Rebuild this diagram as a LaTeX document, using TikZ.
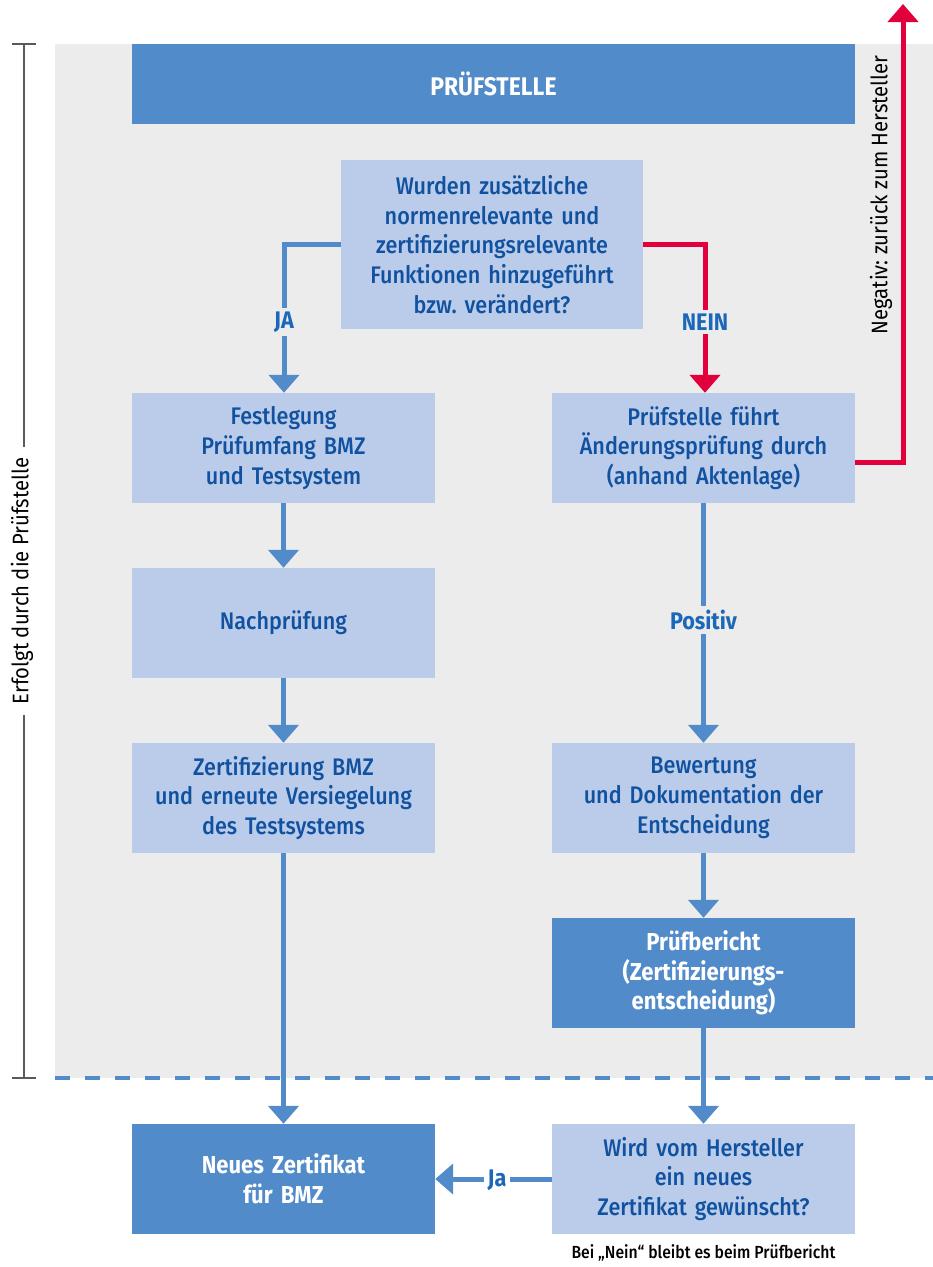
\documentclass[tikz,border=0pt]{standalone}
\usepackage{fontspec}
\setmainfont{Fira Sans}[FakeStretch=0.9, UprightFont={* Medium}, BoldFont={* Bold}]
\newfontfamily\plainfont{Fira Sans}[FakeStretch=0.9]
\usetikzlibrary{arrows.meta}
\definecolor{dkblue}{RGB}{82,139,201}
\definecolor{ltblue}{RGB}{187,203,234}
\definecolor{txtblue}{RGB}{16,82,160}
\definecolor{lblblue}{RGB}{28,104,184}
\definecolor{bggray}{RGB}{236,236,236}
\definecolor{redc}{RGB}{226,0,60}
\definecolor{brgray}{RGB}{90,90,90}
\frenchspacing
\tikzset{
  box/.style={fill=ltblue, text=txtblue, minimum width=303pt, minimum height=110pt, text width=296pt, align=center, inner sep=0pt, font=\fontsize{24}{29.7}\selectfont},
  darkbox/.style={box, fill=dkblue, text=white, font=\fontsize{24.5}{29.7}\selectfont\bfseries},
  conn/.style={draw=dkblue, line width=5pt, -{Triangle[width=30pt,length=18pt]}},
  redconn/.style={draw=redc, line width=5pt, -{Triangle[width=30pt,length=18pt]}},
  lbl/.style={fill=bggray, text=lblblue, font=\fontsize{24}{26}\selectfont\bfseries, inner sep=4pt},
  side/.style={font=\plainfont\fontsize{22.5}{26}\selectfont, text=black, rotate=90}
}
\begin{document}
\begin{tikzpicture}[x=1pt,y=-1pt]
\useasboundingbox (0,0) rectangle (933,1267);
\fill[white] (0,0) rectangle (933,1267);
\fill[bggray] (55,44) rectangle (933,1078);
% bracket
\draw[brgray, line width=1.5pt] (24,44) -- (24,447);
\draw[brgray, line width=1.5pt] (24,715) -- (24,1078);
\draw[brgray, line width=2pt] (12,44) -- (36,44);
\draw[brgray, line width=2pt] (12,1078) -- (36,1078);
\node[side] (erf) at (22,581) {Erfolgt durch die Prüfstelle};
% dashed line
\draw[dkblue, line width=4pt, dash pattern=on 15pt off 15pt] (55,1078) -- (933,1078);
% boxes
\node[darkbox, minimum width=723pt, minimum height=80pt, text width=700pt, font=\fontsize{25.5}{29.7}\selectfont\bfseries] (top) at (493.5,84) {PRÜFSTELLE};
\node[box, minimum width=302pt, minimum height=169pt] (q) at (492,244.5) {Wurden zusätzliche\\normenrelevante und\\zertifizierungsrelevante\\Funktionen hinzugeführt\\bzw. verändert?};
\node[box] (f1) at (283.5,448) {Festlegung\\Prüfumfang BMZ\\und Testsystem};
\node[box] (f2) at (283.5,623) {Nachprüfung};
\node[box] (f3) at (283.5,798) {Zertifizierung BMZ\\und erneute Versiegelung\\des Testsystems};
\node[box] (p1) at (703.5,448) {Prüfstelle führt\\Änderungsprüfung durch\\(anhand Aktenlage)};
\node[box] (p2) at (703.5,798) {Bewertung\\und Dokumentation der\\Entscheidung};
\node[darkbox] (p3) at (703.5,973) {Prüfbericht\\(Zertifizierungs-\\entscheidung)};
\node[darkbox] (nz) at (283.5,1179) {Neues Zertifikat\\für BMZ};
\node[box] (wv) at (703.5,1179) {Wird vom Hersteller\\ein neues\\Zertifikat gewünscht?};
% connectors
\coordinate (ja1) at (284,244);
\draw[conn] (q.west |- 0,244) -- (ja1) -- (f1.north -| ja1);
\node[lbl] (jalbl) at (284,322) {JA};
\coordinate (ne1) at (705,244);
\draw[redconn] (q.east |- 0,244) -- (ne1) -- (p1.north -| ne1);
\node[lbl] (nelbl) at (705,322) {NEIN};
\draw[conn] (f1) -- (f2);
\draw[conn] (f2) -- (f3);
\draw[conn] (f3) -- (nz);
\draw[conn] (p1) -- (p2);
\node[lbl] (poslbl) at (703.5,620) {Positiv};
\draw[conn] (p2) -- (p3);
\draw[conn] (p3) -- (wv);
\draw[conn] (wv) -- (nz);
\node[lbl, fill=white] (jblbl) at (497,1180) {Ja};
% red return
\coordinate (r1) at (903,462);
\coordinate (r2) at (903,4);
\draw[redconn] (p1.east |- r1) -- (r1) -- (r2);
\node[side] (neg) at (881,195) {Negativ: zurück zum Hersteller};
% footnote
\node[font=\fontsize{17.5}{20}\selectfont, text=black] (fn) at (703.5,1253) {Bei „Nein“ bleibt es beim Prüfbericht};
\end{tikzpicture}
\end{document}
